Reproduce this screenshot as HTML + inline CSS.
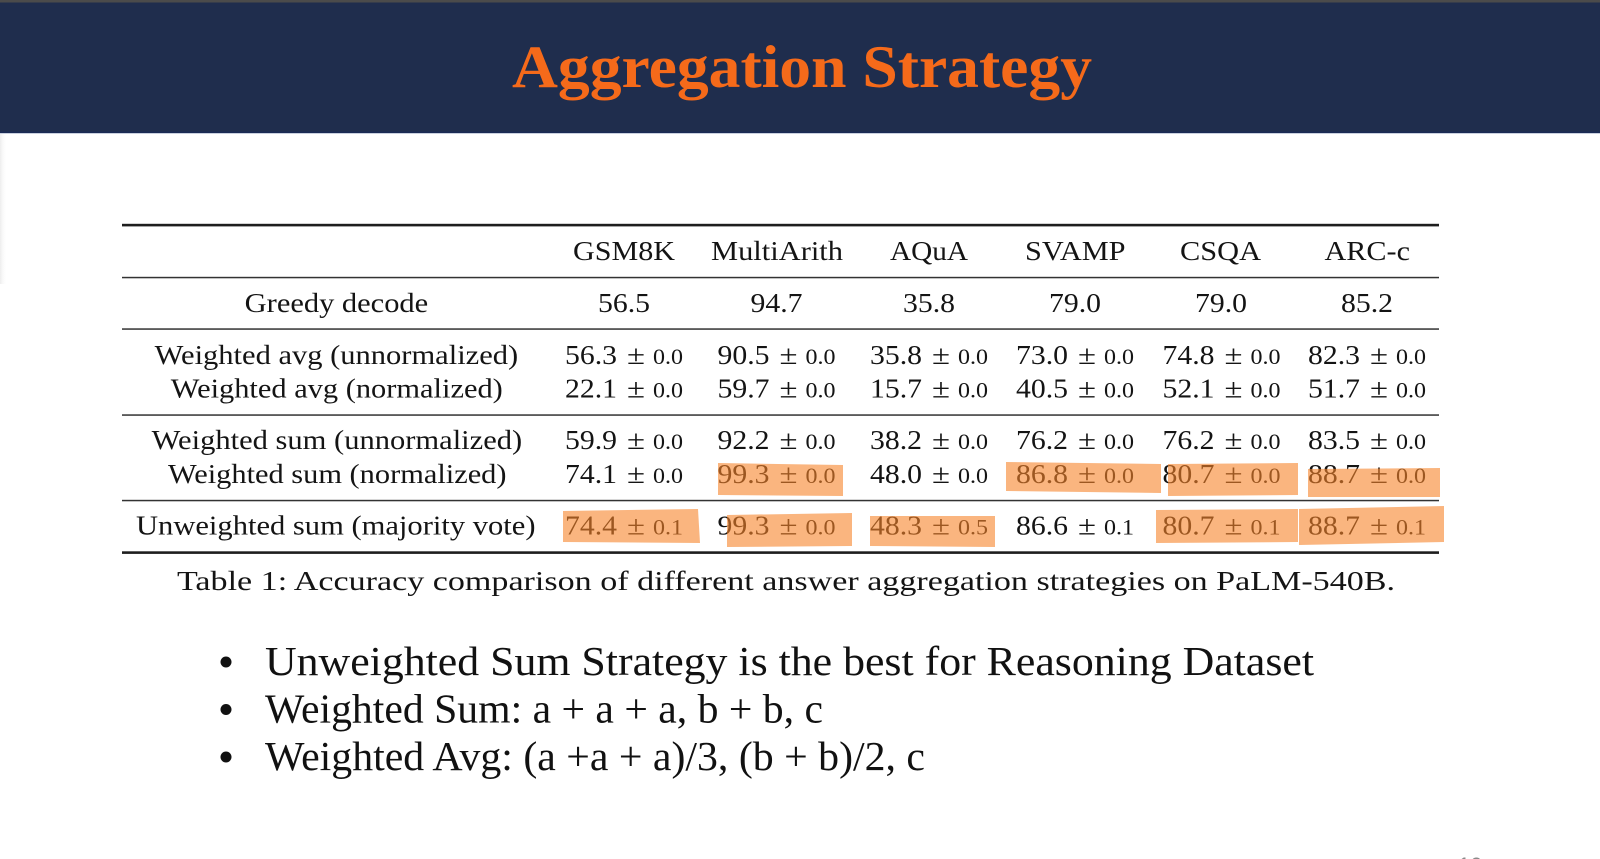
<!DOCTYPE html>
<html>
<head>
<meta charset="utf-8">
<style>
  html,body{margin:0;padding:0;background:#fff;}
  body{width:1600px;height:859px;overflow:hidden;position:relative;}
  svg{position:absolute;left:0;top:0;}
  .t{font-family:"Liberation Serif","Times New Roman",serif;fill:#141414;}
</style>
</head>
<body>
<svg width="1600" height="859" viewBox="0 0 1600 859" xmlns="http://www.w3.org/2000/svg">
  <defs>
    <linearGradient id="lsh" x1="0" x2="1" y1="0" y2="0">
      <stop offset="0" stop-color="#ededed"/>
      <stop offset="1" stop-color="#ffffff" stop-opacity="0"/>
    </linearGradient>
  </defs>
  <!-- header band -->
  <rect x="0" y="0" width="1600" height="133" fill="#1f2d4d"/>
  <rect x="0" y="0" width="1600" height="2.5" fill="#4b4b4b"/>
  <rect x="0" y="131.5" width="1600" height="1.5" fill="#1a2a55"/>
  <rect x="0" y="133" width="1600" height="1" fill="#c9d0de"/>
  <rect x="0" y="134" width="7" height="150" fill="url(#lsh)"/>
  <text x="512" y="87" font-family="'Liberation Serif',serif" font-weight="bold" font-size="60" fill="#f56a1a" textLength="580" lengthAdjust="spacingAndGlyphs">Aggregation Strategy</text>

  <!-- table rules -->
  <g fill="#1e1e1e">
    <rect x="122" y="223.8" width="1317" height="2.6"/>
    <rect x="122" y="276.8" width="1317" height="1.5" fill="#333"/>
    <rect x="122" y="328.3" width="1317" height="1.5" fill="#333"/>
    <rect x="122" y="414.3" width="1317" height="1.5" fill="#333"/>
    <rect x="122" y="499.8" width="1317" height="1.5" fill="#333"/>
    <rect x="122" y="551.3" width="1317" height="2.6"/>
  </g>

  <g class="t" font-size="27">
    <!-- header -->
    <text x="573" y="260" textLength="102" lengthAdjust="spacingAndGlyphs">GSM8K</text>
    <text x="711" y="260" textLength="132" lengthAdjust="spacingAndGlyphs">MultiArith</text>
    <text x="890" y="260" textLength="78" lengthAdjust="spacingAndGlyphs">AQuA</text>
    <text x="1025" y="260" textLength="100.5" lengthAdjust="spacingAndGlyphs">SVAMP</text>
    <text x="1180" y="260" textLength="81" lengthAdjust="spacingAndGlyphs">CSQA</text>
    <text x="1324.5" y="260" textLength="85.5" lengthAdjust="spacingAndGlyphs">ARC-c</text>

    <!-- row labels -->
    <text x="244.7" y="312" textLength="183.5" lengthAdjust="spacingAndGlyphs">Greedy decode</text>
    <text x="154.7" y="364" textLength="363.5" lengthAdjust="spacingAndGlyphs">Weighted avg (unnormalized)</text>
    <text x="170.8" y="397.5" textLength="332" lengthAdjust="spacingAndGlyphs">Weighted avg (normalized)</text>
    <text x="151.7" y="449" textLength="370.5" lengthAdjust="spacingAndGlyphs">Weighted sum (unnormalized)</text>
    <text x="168" y="483" textLength="338.5" lengthAdjust="spacingAndGlyphs">Weighted sum (normalized)</text>
    <text x="136" y="534.5" textLength="399.5" lengthAdjust="spacingAndGlyphs">Unweighted sum (majority vote)</text>

    <!-- greedy values -->
    <text x="598" y="312" textLength="52" lengthAdjust="spacingAndGlyphs">56.5</text>
    <text x="750.5" y="312" textLength="52" lengthAdjust="spacingAndGlyphs">94.7</text>
    <text x="903" y="312" textLength="52" lengthAdjust="spacingAndGlyphs">35.8</text>
    <text x="1049" y="312" textLength="52" lengthAdjust="spacingAndGlyphs">79.0</text>
    <text x="1195" y="312" textLength="52" lengthAdjust="spacingAndGlyphs">79.0</text>
    <text x="1341" y="312" textLength="52" lengthAdjust="spacingAndGlyphs">85.2</text>
  </g>

  <!-- value cells: main at c-59 (52 wide), ± at c+3 (18 wide), small at c+29 (30 wide) -->
  <g class="t" font-size="27">
    <!-- row 3 y=364 -->
    <text x="565" y="364" textLength="52" lengthAdjust="spacingAndGlyphs">56.3</text>
    <text x="717.5" y="364" textLength="52" lengthAdjust="spacingAndGlyphs">90.5</text>
    <text x="870" y="364" textLength="52" lengthAdjust="spacingAndGlyphs">35.8</text>
    <text x="1016" y="364" textLength="52" lengthAdjust="spacingAndGlyphs">73.0</text>
    <text x="1162.5" y="364" textLength="52" lengthAdjust="spacingAndGlyphs">74.8</text>
    <text x="1308" y="364" textLength="52" lengthAdjust="spacingAndGlyphs">82.3</text>
    <!-- row 4 y=397.5 -->
    <text x="565" y="397.5" textLength="52" lengthAdjust="spacingAndGlyphs">22.1</text>
    <text x="717.5" y="397.5" textLength="52" lengthAdjust="spacingAndGlyphs">59.7</text>
    <text x="870" y="397.5" textLength="52" lengthAdjust="spacingAndGlyphs">15.7</text>
    <text x="1016" y="397.5" textLength="52" lengthAdjust="spacingAndGlyphs">40.5</text>
    <text x="1162.5" y="397.5" textLength="52" lengthAdjust="spacingAndGlyphs">52.1</text>
    <text x="1308" y="397.5" textLength="52" lengthAdjust="spacingAndGlyphs">51.7</text>
    <!-- row 5 y=449 -->
    <text x="565" y="449" textLength="52" lengthAdjust="spacingAndGlyphs">59.9</text>
    <text x="717.5" y="449" textLength="52" lengthAdjust="spacingAndGlyphs">92.2</text>
    <text x="870" y="449" textLength="52" lengthAdjust="spacingAndGlyphs">38.2</text>
    <text x="1016" y="449" textLength="52" lengthAdjust="spacingAndGlyphs">76.2</text>
    <text x="1162.5" y="449" textLength="52" lengthAdjust="spacingAndGlyphs">76.2</text>
    <text x="1308" y="449" textLength="52" lengthAdjust="spacingAndGlyphs">83.5</text>
    <!-- row 6 y=483 -->
    <text x="565" y="483" textLength="52" lengthAdjust="spacingAndGlyphs">74.1</text>
    <text x="717.5" y="483" textLength="52" lengthAdjust="spacingAndGlyphs">99.3</text>
    <text x="870" y="483" textLength="52" lengthAdjust="spacingAndGlyphs">48.0</text>
    <text x="1016" y="483" textLength="52" lengthAdjust="spacingAndGlyphs">86.8</text>
    <text x="1162.5" y="483" textLength="52" lengthAdjust="spacingAndGlyphs">80.7</text>
    <text x="1308" y="483" textLength="52" lengthAdjust="spacingAndGlyphs">88.7</text>
    <!-- row 7 y=534.5 -->
    <text x="565" y="534.5" textLength="52" lengthAdjust="spacingAndGlyphs">74.4</text>
    <text x="717.5" y="534.5" textLength="52" lengthAdjust="spacingAndGlyphs">99.3</text>
    <text x="870" y="534.5" textLength="52" lengthAdjust="spacingAndGlyphs">48.3</text>
    <text x="1016" y="534.5" textLength="52" lengthAdjust="spacingAndGlyphs">86.6</text>
    <text x="1162.5" y="534.5" textLength="52" lengthAdjust="spacingAndGlyphs">80.7</text>
    <text x="1308" y="534.5" textLength="52" lengthAdjust="spacingAndGlyphs">88.7</text>
  </g>

  <!-- ± signs -->
  <g class="t" font-size="27">
    <text x="627" y="364" textLength="18" lengthAdjust="spacingAndGlyphs">±</text>
    <text x="779.5" y="364" textLength="18" lengthAdjust="spacingAndGlyphs">±</text>
    <text x="932" y="364" textLength="18" lengthAdjust="spacingAndGlyphs">±</text>
    <text x="1078" y="364" textLength="18" lengthAdjust="spacingAndGlyphs">±</text>
    <text x="1224.5" y="364" textLength="18" lengthAdjust="spacingAndGlyphs">±</text>
    <text x="1370" y="364" textLength="18" lengthAdjust="spacingAndGlyphs">±</text>

    <text x="627" y="397.5" textLength="18" lengthAdjust="spacingAndGlyphs">±</text>
    <text x="779.5" y="397.5" textLength="18" lengthAdjust="spacingAndGlyphs">±</text>
    <text x="932" y="397.5" textLength="18" lengthAdjust="spacingAndGlyphs">±</text>
    <text x="1078" y="397.5" textLength="18" lengthAdjust="spacingAndGlyphs">±</text>
    <text x="1224.5" y="397.5" textLength="18" lengthAdjust="spacingAndGlyphs">±</text>
    <text x="1370" y="397.5" textLength="18" lengthAdjust="spacingAndGlyphs">±</text>

    <text x="627" y="449" textLength="18" lengthAdjust="spacingAndGlyphs">±</text>
    <text x="779.5" y="449" textLength="18" lengthAdjust="spacingAndGlyphs">±</text>
    <text x="932" y="449" textLength="18" lengthAdjust="spacingAndGlyphs">±</text>
    <text x="1078" y="449" textLength="18" lengthAdjust="spacingAndGlyphs">±</text>
    <text x="1224.5" y="449" textLength="18" lengthAdjust="spacingAndGlyphs">±</text>
    <text x="1370" y="449" textLength="18" lengthAdjust="spacingAndGlyphs">±</text>

    <text x="627" y="483" textLength="18" lengthAdjust="spacingAndGlyphs">±</text>
    <text x="779.5" y="483" textLength="18" lengthAdjust="spacingAndGlyphs">±</text>
    <text x="932" y="483" textLength="18" lengthAdjust="spacingAndGlyphs">±</text>
    <text x="1078" y="483" textLength="18" lengthAdjust="spacingAndGlyphs">±</text>
    <text x="1224.5" y="483" textLength="18" lengthAdjust="spacingAndGlyphs">±</text>
    <text x="1370" y="483" textLength="18" lengthAdjust="spacingAndGlyphs">±</text>

    <text x="627" y="534.5" textLength="18" lengthAdjust="spacingAndGlyphs">±</text>
    <text x="779.5" y="534.5" textLength="18" lengthAdjust="spacingAndGlyphs">±</text>
    <text x="932" y="534.5" textLength="18" lengthAdjust="spacingAndGlyphs">±</text>
    <text x="1078" y="534.5" textLength="18" lengthAdjust="spacingAndGlyphs">±</text>
    <text x="1224.5" y="534.5" textLength="18" lengthAdjust="spacingAndGlyphs">±</text>
    <text x="1370" y="534.5" textLength="18" lengthAdjust="spacingAndGlyphs">±</text>
  </g>

  <!-- small deviations -->
  <g class="t" font-size="22">
    <text x="653" y="364" textLength="30" lengthAdjust="spacingAndGlyphs">0.0</text>
    <text x="805.5" y="364" textLength="30" lengthAdjust="spacingAndGlyphs">0.0</text>
    <text x="958" y="364" textLength="30" lengthAdjust="spacingAndGlyphs">0.0</text>
    <text x="1104" y="364" textLength="30" lengthAdjust="spacingAndGlyphs">0.0</text>
    <text x="1250.5" y="364" textLength="30" lengthAdjust="spacingAndGlyphs">0.0</text>
    <text x="1396" y="364" textLength="30" lengthAdjust="spacingAndGlyphs">0.0</text>

    <text x="653" y="397.5" textLength="30" lengthAdjust="spacingAndGlyphs">0.0</text>
    <text x="805.5" y="397.5" textLength="30" lengthAdjust="spacingAndGlyphs">0.0</text>
    <text x="958" y="397.5" textLength="30" lengthAdjust="spacingAndGlyphs">0.0</text>
    <text x="1104" y="397.5" textLength="30" lengthAdjust="spacingAndGlyphs">0.0</text>
    <text x="1250.5" y="397.5" textLength="30" lengthAdjust="spacingAndGlyphs">0.0</text>
    <text x="1396" y="397.5" textLength="30" lengthAdjust="spacingAndGlyphs">0.0</text>

    <text x="653" y="449" textLength="30" lengthAdjust="spacingAndGlyphs">0.0</text>
    <text x="805.5" y="449" textLength="30" lengthAdjust="spacingAndGlyphs">0.0</text>
    <text x="958" y="449" textLength="30" lengthAdjust="spacingAndGlyphs">0.0</text>
    <text x="1104" y="449" textLength="30" lengthAdjust="spacingAndGlyphs">0.0</text>
    <text x="1250.5" y="449" textLength="30" lengthAdjust="spacingAndGlyphs">0.0</text>
    <text x="1396" y="449" textLength="30" lengthAdjust="spacingAndGlyphs">0.0</text>

    <text x="653" y="483" textLength="30" lengthAdjust="spacingAndGlyphs">0.0</text>
    <text x="805.5" y="483" textLength="30" lengthAdjust="spacingAndGlyphs">0.0</text>
    <text x="958" y="483" textLength="30" lengthAdjust="spacingAndGlyphs">0.0</text>
    <text x="1104" y="483" textLength="30" lengthAdjust="spacingAndGlyphs">0.0</text>
    <text x="1250.5" y="483" textLength="30" lengthAdjust="spacingAndGlyphs">0.0</text>
    <text x="1396" y="483" textLength="30" lengthAdjust="spacingAndGlyphs">0.0</text>

    <text x="653" y="534.5" textLength="30" lengthAdjust="spacingAndGlyphs">0.1</text>
    <text x="805.5" y="534.5" textLength="30" lengthAdjust="spacingAndGlyphs">0.0</text>
    <text x="958" y="534.5" textLength="30" lengthAdjust="spacingAndGlyphs">0.5</text>
    <text x="1104" y="534.5" textLength="30" lengthAdjust="spacingAndGlyphs">0.1</text>
    <text x="1250.5" y="534.5" textLength="30" lengthAdjust="spacingAndGlyphs">0.1</text>
    <text x="1396" y="534.5" textLength="30" lengthAdjust="spacingAndGlyphs">0.1</text>
  </g>

  <!-- highlighter marks (overlay) -->
  <g fill="rgb(246,131,41)" fill-opacity="0.6">
    <polygon points="718,463 843,465 843,496 718,495"/>
    <polygon points="1006,462 1161,464 1161,493 1006,491"/>
    <polygon points="1168,464 1298,463 1298,495 1168,496"/>
    <polygon points="1308,469 1440,468 1440,497 1308,497"/>
    <polygon points="563,511 698,509 700,543 563,542"/>
    <polygon points="727,515 852,513 852,546 727,547"/>
    <polygon points="870,516 995,516 995,547 870,546"/>
    <polygon points="1156,510 1298,509 1298,542 1156,543"/>
    <polygon points="1299,509 1444,506 1444,542 1299,545"/>
  </g>

  <!-- caption -->
  <text class="t" x="177" y="590" font-size="27" textLength="1218" lengthAdjust="spacingAndGlyphs">Table 1: Accuracy comparison of different answer aggregation strategies on PaLM-540B.</text>

  <!-- bullets -->
  <g fill="#111">
    <circle cx="226" cy="662" r="5.5"/>
    <circle cx="226" cy="709.5" r="5.5"/>
    <circle cx="226" cy="757" r="5.5"/>
  </g>
  <g class="t" font-size="41" style="fill:#111">
    <text x="265" y="675" textLength="1049" lengthAdjust="spacingAndGlyphs">Unweighted Sum Strategy is the best for Reasoning Dataset</text>
    <text x="265" y="722.3" textLength="558" lengthAdjust="spacingAndGlyphs">Weighted Sum: a + a + a, b + b, c</text>
    <text x="265" y="770" textLength="660" lengthAdjust="spacingAndGlyphs">Weighted Avg: (a +a + a)/3, (b + b)/2, c</text>
  </g>

  <!-- page number (cut off at bottom) -->
  <text x="1458" y="873" font-family="'Liberation Sans',sans-serif" font-size="22" fill="#8a8a8a">10</text>
</svg>
</body>
</html>
